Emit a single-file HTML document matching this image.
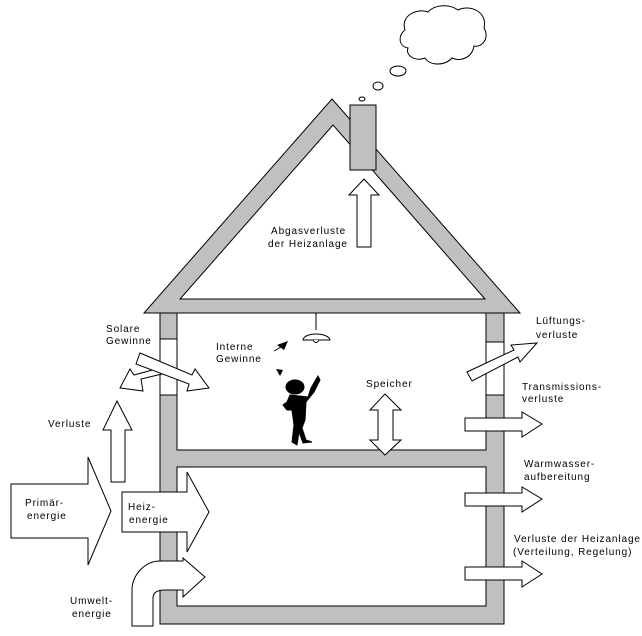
<!DOCTYPE html>
<html><head><meta charset="utf-8"><style>
html,body{margin:0;padding:0;background:#fff;}
svg{display:block;}
text{font-family:"Liberation Sans",sans-serif;font-size:10px;letter-spacing:0.9px;fill:#000;}
</style></head><body>
<svg width="642" height="636" viewBox="0 0 642 636" xmlns="http://www.w3.org/2000/svg">
<g stroke="#000" stroke-width="1" fill="#c0c0c0">
<path fill-rule="evenodd" d="M332,99 L520,313 L144,313 Z M333,125 L180,299 L485,299 Z"/>
<rect x="350" y="105" width="26" height="65"/>
<path fill-rule="evenodd" d="M160,313 L504,313 L504,624 L160,624 Z M177,313 L486,313 L486,450 L177,450 Z M177,467 L486,467 L486,606 L177,606 Z"/>
</g>
<rect x="160" y="339" width="17" height="56" fill="#fff" stroke="#000"/>
<rect x="486" y="342" width="18" height="53" fill="#fff" stroke="#000"/>
<line x1="160" y1="313" x2="504" y2="313" stroke="#000"/>
<path d="M405,30 C400,15 418,8 428,12 C435,4 450,4 458,10 C470,4 488,12 484,28 C490,38 482,48 474,46 C472,58 460,62 452,58 C445,66 430,66 425,58 C415,62 405,55 408,48 C398,46 398,35 405,30 Z" fill="#fff" stroke="#000"/>
<ellipse cx="398" cy="71" rx="8" ry="5" fill="#fff" stroke="#000"/>
<ellipse cx="378" cy="86" rx="5" ry="4" fill="#fff" stroke="#000"/>
<ellipse cx="362" cy="99" rx="3" ry="2" fill="#fff" stroke="#000"/>
<g fill="#fff" stroke="#000">
<polygon points="357,247 371,247 371,195 379,195 364,179 349,195 357,195"/>
<polygon points="111,482 125,482 125,430 132,430 117,401 103,430 111,430"/>
<polygon points="11,484 88,484 88,457 111,511 88,565 88,538 11,538"/>
<polygon points="122,492 187,492 187,472 209,512 187,552 187,532 122,532"/>
<path d="M132,626 L153,626 L153,598 C153,592 158,590 165,590 L183,590 L183,597 L205,577 L183,558 L183,561 L160,561 C145,561 132,575 132,590 Z"/>
<polygon points="385,394 401,410 393,410 393,440 401,440 385,455 370,440 378,440 378,410 370,410"/>
<polygon points="465,418 522,418 522,412 542,424 522,437 522,431 465,431"/>
<polygon points="465,493 522,493 522,487 542,499 522,512 522,506 465,506"/>
<polygon points="465,567 522,567 522,561 542,574 522,587 522,580 465,580"/>
<polygon points="467,372 514,350 511,345 537,343 520,362 518,357 472,381"/>
<polygon points="162,374 141,379 143,391 120,388 130,369 134,375 160,368"/>
<polygon points="140,353 192,375 195,369 209,388 187,391 189,384 136,364"/>
</g>
<line x1="316" y1="313" x2="316" y2="330" stroke="#000"/>
<path d="M303,340 C304,332 328,332 330,340 Z" fill="#fff" stroke="#000"/>
<path d="M313,340 Q316,345 319,340" fill="#fff" stroke="#000"/>
<polygon points="277,345 288,341 284,350" fill="#000"/>
<line x1="274" y1="351" x2="281" y2="347" stroke="#000"/>
<polygon points="276,369 283,370 280,376" fill="#000"/>
<g fill="#000" stroke="#000">
<ellipse cx="295" cy="387" rx="9" ry="7"/>
<path d="M290,395 L308,397 L311,388 L315,381 L318,376 L320,380 L314,392 L306,402 L305,420 L302,428 L306,440 L312,442 L303,443 L299,432 L297,445 L292,442 L294,425 L292,410 L287,410 L283,405 L287,402 Z"/>
</g>
<text x="106" y="332">Solare</text><text x="106" y="344">Gewinne</text>
<text x="216" y="350">Interne</text><text x="216" y="362">Gewinne</text>
<text x="48" y="427">Verluste</text>
<text x="25" y="506">Primär-</text><text x="27" y="519">energie</text>
<text x="128" y="510">Heiz-</text><text x="129" y="523">energie</text>
<text x="70" y="604">Umwelt-</text><text x="72" y="617">energie</text>
<text x="271" y="234">Abgasverluste</text><text x="268" y="247">der Heizanlage</text>
<text x="366" y="387">Speicher</text>
<text x="536" y="324">Lüftungs-</text><text x="536" y="338">verluste</text>
<text x="522" y="390">Transmissions-</text><text x="522" y="402">verluste</text>
<text x="524" y="467">Warmwasser-</text><text x="524" y="480">aufbereitung</text>
<text x="514" y="542">Verluste der Heizanlage</text><text x="513" y="555">(Verteilung, Regelung)</text>
</svg>
</body></html>
